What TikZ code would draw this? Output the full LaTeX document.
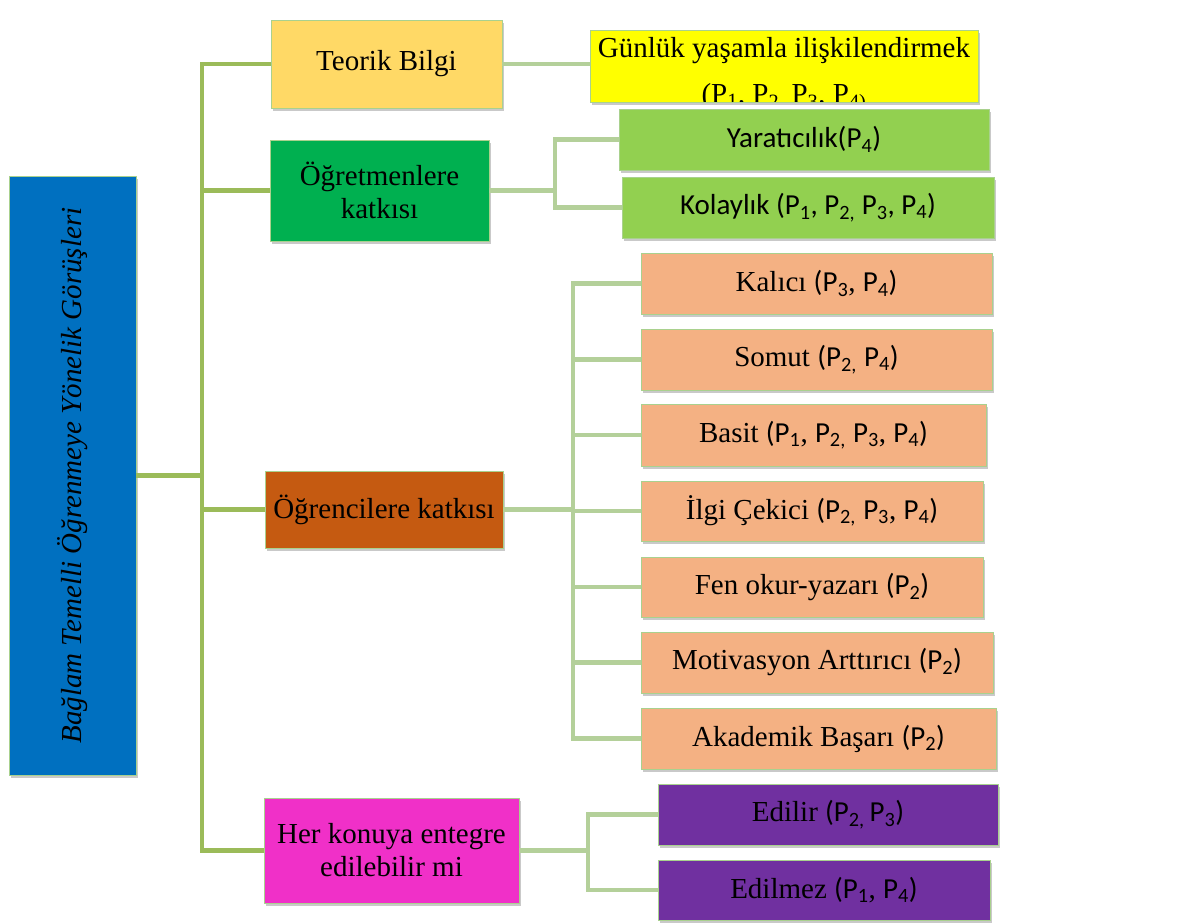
\documentclass[tikz,border=0pt]{standalone}
\usepackage{fontspec}
\setmainfont{Liberation Serif}
\newfontfamily\pfont{Carlito}
\usetikzlibrary{shadows}

\definecolor{kokmavi}{HTML}{0070C0}
\definecolor{teorikc}{HTML}{FFD966}
\definecolor{ogretc}{HTML}{00B050}
\definecolor{ogrenc}{HTML}{C55A11}
\definecolor{herc}{HTML}{F030C8}
\definecolor{gunc}{HTML}{FFFF00}
\definecolor{yesilc}{HTML}{92D050}
\definecolor{turuncc}{HTML}{F4B183}
\definecolor{morc}{HTML}{7030A0}
\definecolor{govdec}{HTML}{9BBB59}
\definecolor{dalc}{HTML}{B4D09A}
\definecolor{kenarc}{HTML}{A9D18E}

\newcommand{\pp}[1]{{\pfont P\textsubscript{#1}}}

\tikzset{
  kutu/.style={rectangle, inner sep=2pt, outer sep=0pt, anchor=north west,
    draw=kenarc, line width=0.6pt, align=center,
    font=\fontsize{29}{33}\selectfont,
    drop shadow={shadow xshift=2pt, shadow yshift=-3pt, opacity=0.3, fill=black!70}},
  govde/.style={govdec, line width=4.5pt},
  dal/.style={dalc, line width=4.5pt},
}

\begin{document}
\begin{tikzpicture}[x=1pt, y=-1pt]
      \useasboundingbox (0,0) rectangle (1200,924);

      \node[kutu, fill=kokmavi, minimum width=127, minimum height=599] (kok) at (9,176)
        {\itshape\rotatebox{90}{Bağlam Temelli Öğrenmeye Yönelik Görüşleri}};

      \node[kutu, fill=teorikc, minimum width=231, minimum height=88] (teorik) at (271,20) {Teorik Bilgi};
      \node[kutu, fill=ogretc, minimum width=219, minimum height=101] (ogret) at (270,140) {Öğretmenlere\\katkısı};
      \node[kutu, fill=ogrenc, minimum width=238, minimum height=77] (ogren) at (265,471) {Öğrencilere katkısı};
      \node[kutu, fill=herc, minimum width=255, minimum height=105] (her) at (264,798) {Her konuya entegre\\edilebilir mi};

      \node[kutu, fill=gunc, minimum width=388, minimum height=72,
        path picture={\node[anchor=center, align=center, draw=none, inner sep=0pt,
          font=\fontsize{29}{46}\selectfont]
          at ([yshift=-9pt]path picture bounding box.center)
          {Günlük yaşamla ilişkilendirmek\\(P\textsubscript{1}, P\textsubscript{2,} P\textsubscript{3}, P\textsubscript{4)}};}] (gunluk) at (590,30) {};

      \node[kutu, fill=yesilc, font=\fontsize{29}{33}\pfont, minimum width=370, minimum height=61] (yarat) at (619,109) {Yaratıcılık(P\textsubscript{4})};
      \node[kutu, fill=yesilc, font=\fontsize{29}{33}\pfont, minimum width=372, minimum height=61] (kolay) at (622,177) {Kolaylık (P\textsubscript{1}, P\textsubscript{2,} P\textsubscript{3}, P\textsubscript{4})};

      \node[kutu, fill=turuncc, minimum width=351, minimum height=61] (kalici) at (641,253) {Kalıcı {\pfont(}\pp{3}, \pp{4}{\pfont)}};
      \node[kutu, fill=turuncc, minimum width=351, minimum height=61] (somut) at (641,329) {Somut {\pfont(}\pp{2,} \pp{4}{\pfont)}};
      \node[kutu, fill=turuncc, minimum width=345, minimum height=62] (basit) at (641,404) {Basit {\pfont(}\pp{1}, \pp{2,} \pp{3}, \pp{4}{\pfont)}};
      \node[kutu, fill=turuncc, minimum width=342, minimum height=60] (ilgi) at (641,481) {İlgi Çekici {\pfont(}\pp{2,} \pp{3}, \pp{4}{\pfont)}};
      \node[kutu, fill=turuncc, minimum width=342, minimum height=60] (fen) at (641,557) {Fen okur-yazarı {\pfont(}\pp{2}{\pfont)}};
      \node[kutu, fill=turuncc, minimum width=352, minimum height=61] (motiv) at (641,632) {Motivasyon Arttırıcı {\pfont(}\pp{2}{\pfont)}};
      \node[kutu, fill=turuncc, minimum width=355, minimum height=61] (akad) at (641,708) {Akademik Başarı {\pfont(}\pp{2}{\pfont)}};

      \node[kutu, fill=morc, minimum width=340, minimum height=61] (edilir) at (658,784) {Edilir {\pfont(}\pp{2,}{\pfont\,}\pp{3}{\pfont)}};
      \node[kutu, fill=morc, minimum width=332, minimum height=60] (edilmez) at (658,860) {Edilmez {\pfont(}\pp{1}, \pp{4}{\pfont)}};

      \coordinate (g) at (202,474);
      \draw[govde] (kok.east) -- (kok.east -| g);
      \draw[govde] (teorik.west) -| (g) |- (her.west);
      \draw[govde] (ogret.west) -- (ogret.west -| g);
      \draw[govde] (ogren.west) -- (ogren.west -| g);

      \draw[dal] (teorik.east) -- (teorik.east -| gunluk.west);

      \coordinate (yb) at (555,190);
      \draw[dal] (ogret.east) -- (ogret.east -| yb);
      \draw[dal] (yarat.west) -| (yb) |- (kolay.west);

      \coordinate (tb) at (573,510);
      \draw[dal] (ogren.east) -- (ogren.east -| tb);
      \draw[dal] (kalici.west) -| (tb) |- (akad.west);
      \foreach \k in {somut,basit,ilgi,fen,motiv}
        \draw[dal] (\k.west) -- (\k.west -| tb);

      \coordinate (mb) at (588,850);
      \draw[dal] (her.east) -- (her.east -| mb);
      \draw[dal] (edilir.west) -| (mb) |- (edilmez.west);
\end{tikzpicture}
\end{document}
